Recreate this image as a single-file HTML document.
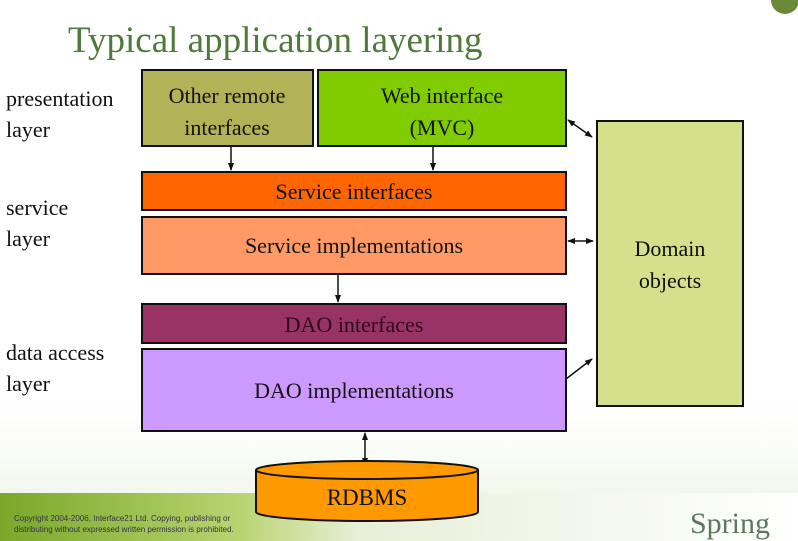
<!DOCTYPE html>
<html><head><meta charset="utf-8"><style>
html,body{margin:0;padding:0;background:#fff;}
svg{display:block;font-family:"Liberation Serif",serif;}
</style></head><body>
<svg width="798" height="541" viewBox="0 0 798 541" xmlns="http://www.w3.org/2000/svg">
<defs>
<linearGradient id="g" x1="0" y1="0" x2="0" y2="1">
<stop offset="0" stop-color="#ffffff" stop-opacity="0"/>
<stop offset="1" stop-color="#e6eed8"/>
</linearGradient>
<linearGradient id="strip" x1="0" y1="0" x2="1" y2="0">
<stop offset="0" stop-color="#7aa82a"/>
<stop offset="0.3" stop-color="#b8d470"/>
<stop offset="0.45" stop-color="#e8efd8"/>
<stop offset="1" stop-color="#ffffff"/>
</linearGradient>
<marker id="a" markerWidth="8" markerHeight="8" refX="7" refY="4" orient="auto" markerUnits="userSpaceOnUse"><path d="M0,1 L8,4 L0,7 z" fill="#111"/></marker>
<marker id="b" markerWidth="8" markerHeight="8" refX="1" refY="4" orient="auto" markerUnits="userSpaceOnUse"><path d="M8,1 L0,4 L8,7 z" fill="#111"/></marker>
</defs>
<rect width="798" height="541" fill="#fff"/>
<rect x="0" y="380" width="798" height="161" fill="url(#g)"/>
<rect x="0" y="493" width="798" height="48" fill="url(#strip)"/>
<circle cx="785" cy="0" r="14" fill="#6a8a3a"/>
<text x="68" y="52" font-size="37" fill="#4e7a3a">Typical application layering</text>
<g font-size="22" fill="#111">
<text x="6" y="106">presentation</text><text x="6" y="137">layer</text>
<text x="6" y="215">service</text><text x="6" y="246">layer</text>
<text x="6" y="360">data access</text><text x="6" y="391">layer</text>
</g>
<g stroke="#111" stroke-width="2">
<rect x="142" y="70" width="171" height="76" fill="#b2b256"/>
<rect x="318" y="70" width="248" height="76" fill="#80cc00"/>
<rect x="142" y="172" width="424" height="38" fill="#ff6600"/>
<rect x="142" y="217" width="424" height="57" fill="#ff9966"/>
<rect x="142" y="304" width="424" height="39" fill="#993366"/>
<rect x="142" y="349" width="424" height="82" fill="#cc99ff"/>
<rect x="597" y="121" width="146" height="285" fill="#d4e08c"/>
</g>
<g stroke="#111" stroke-width="1.5" fill="none">
<line x1="231" y1="147" x2="231" y2="170" marker-end="url(#a)"/>
<line x1="433" y1="147" x2="433" y2="170" marker-end="url(#a)"/>
<line x1="338" y1="275" x2="338" y2="302" marker-end="url(#a)"/>
<line x1="568" y1="120" x2="592" y2="137" marker-start="url(#b)" marker-end="url(#a)"/>
<line x1="568" y1="241" x2="593" y2="241" marker-start="url(#b)" marker-end="url(#a)"/>
<line x1="566" y1="379" x2="592" y2="359" marker-end="url(#a)"/>
<line x1="365" y1="433" x2="365" y2="465" marker-start="url(#b)" marker-end="url(#a)"/>
</g>
<g font-size="22" fill="#111" text-anchor="middle">
<text x="227" y="103">Other remote</text><text x="227" y="135">interfaces</text>
<text x="442" y="103">Web interface</text><text x="442" y="135">(MVC)</text>
<text x="354" y="199">Service interfaces</text>
<text x="354" y="253">Service implementations</text>
<text x="354" y="332" fill="#2a0a1a">DAO interfaces</text>
<text x="354" y="398">DAO implementations</text>
<text x="670" y="256">Domain</text><text x="670" y="288">objects</text>
</g>
<g stroke="#111" stroke-width="2" fill="#ff9900">
<path d="M256,470 L256,512 A111,9 0 0 0 478,512 L478,470"/>
<ellipse cx="367" cy="470" rx="111" ry="9"/>
</g>
<text x="367" y="505" font-size="23" text-anchor="middle" fill="#111">RDBMS</text>
<g font-family="Liberation Sans,sans-serif" font-size="8" fill="#334">
<text x="14" y="521">Copyright 2004-2006, Interface21 Ltd. Copying, publishing or</text>
<text x="14" y="532">distributing without expressed written permission is prohibited.</text>
</g>
<text x="690" y="533" font-size="30" fill="#5a7a5a">Spring</text>
</svg>
</body></html>
